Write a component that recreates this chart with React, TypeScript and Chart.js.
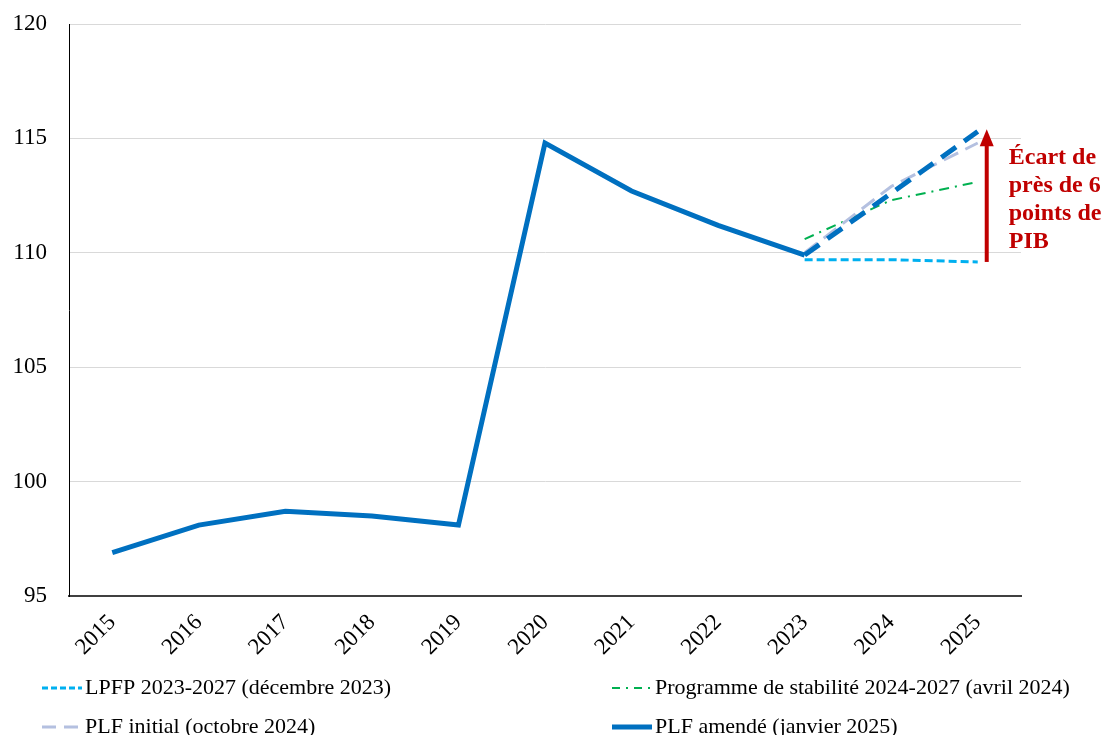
import React, { useEffect, useRef } from "react";
import { Chart, registerables } from "chart.js";

Chart.register(...registerables);

// Categories and series (dette publique, % du PIB)
const YEARS = ["2015", "2016", "2017", "2018", "2019", "2020", "2021", "2022", "2023", "2024", "2025"];
const LPFP = [null, null, null, null, null, null, null, null, 109.7, 109.7, 109.6];
const PROGRAMME = [null, null, null, null, null, null, null, null, 110.6, 112.3, 113.1];
const PLF_INITIAL = [null, null, null, null, null, null, null, null, 110.0, 112.9, 114.8];
const PLF_AMENDE = [96.9, 98.1, 98.7, 98.5, 98.1, 114.8, 112.7, 111.2, 109.9, 112.6, 115.3];
const Y_TICKS = [95, 100, 105, 110, 115, 120];

// Annotation: gap arrow between the two 2025 forecasts
const ARROW_FROM = 109.6;
const ARROW_TO = 115.4;
const ARROW_TEXT = ["Écart de", "près de 6", "points de", "PIB"];

const LEGEND_LABELS = [
  "LPFP 2023-2027 (décembre 2023)",
  "Programme de stabilité 2024-2027 (avril 2024)",
  "PLF initial (octobre 2024)",
  "PLF amendé (janvier 2025)",
];

const FONT = "'Liberation Serif', 'Times New Roman', serif";

const arrowPlugin = {
  id: "gapArrow",
  afterDatasetsDraw(chart: any) {
    const { ctx, scales } = chart;
    const x = scales.x.getPixelForValue(10) + 9;
    const yB = scales.y.getPixelForValue(ARROW_FROM);
    const yT = scales.y.getPixelForValue(ARROW_TO);
    ctx.save();
    ctx.strokeStyle = "#C00000";
    ctx.fillStyle = "#C00000";
    ctx.lineWidth = 4;
    ctx.beginPath();
    ctx.moveTo(x, yB);
    ctx.lineTo(x, yT + 14);
    ctx.stroke();
    ctx.beginPath();
    ctx.moveTo(x, yT);
    ctx.lineTo(x - 7, yT + 17);
    ctx.lineTo(x + 7, yT + 17);
    ctx.closePath();
    ctx.fill();
    ctx.font = `bold 24px ${FONT}`;
    ctx.textAlign = "left";
    ctx.textBaseline = "alphabetic";
    ARROW_TEXT.forEach((t, i) => {
      ctx.fillText(t, x + 22, yT + 35 + i * 28);
    });
    ctx.restore();
  },
};

const legendPlugin = {
  id: "bottomLegend",
  afterDraw(chart: any) {
    const { ctx } = chart;
    const slots = [
      { ds: 0, x: 42, y: 688 },
      { ds: 1, x: 612, y: 688 },
      { ds: 2, x: 42, y: 727 },
      { ds: 3, x: 612, y: 727 },
    ];
    ctx.save();
    slots.forEach((s, i) => {
      const d = chart.data.datasets[s.ds];
      ctx.strokeStyle = d.borderColor;
      ctx.lineWidth = d.borderWidth;
      ctx.setLineDash(d.legendDash || []);
      ctx.beginPath();
      ctx.moveTo(s.x, s.y);
      ctx.lineTo(s.x + 40, s.y);
      ctx.stroke();
      ctx.setLineDash([]);
      ctx.fillStyle = "#000";
      ctx.font = `22px ${FONT}`;
      ctx.textAlign = "left";
      ctx.textBaseline = "middle";
      ctx.fillText(LEGEND_LABELS[i], s.x + 43, s.y);
    });
    ctx.restore();
  },
};

export default function App() {
  const ref = useRef<HTMLCanvasElement | null>(null);

  useEffect(() => {
    document.body.style.margin = "0";
    const canvas = ref.current;
    if (!canvas) return;
    const chart = new Chart(canvas, {
      type: "line",
      data: {
        labels: YEARS,
        datasets: [
          {
            label: LEGEND_LABELS[0],
            data: LPFP,
            borderColor: "#00B0F0",
            borderWidth: 3,
            borderDash: [8, 4],
            legendDash: [6, 3],
            pointRadius: 0,
            order: 3,
          } as any,
          {
            label: LEGEND_LABELS[1],
            data: PROGRAMME,
            borderColor: "#00B050",
            borderWidth: 2,
            borderDash: [10, 6, 2, 6],
            legendDash: [8, 6, 2, 6],
            pointRadius: 0,
            order: 2,
          },
          {
            label: LEGEND_LABELS[2],
            data: PLF_INITIAL,
            borderColor: "#B4C0E0",
            borderWidth: 3,
            borderDash: [16, 8],
            legendDash: [14, 8],
            pointRadius: 0,
            order: 1,
          },
          {
            label: LEGEND_LABELS[3],
            data: PLF_AMENDE,
            borderColor: "#0070C0",
            borderWidth: 5,
            pointRadius: 0,
            order: 0,
            segment: {
              borderDash: (c: any) => (c.p0DataIndex >= 8 ? [18, 10] : undefined),
            },
          },
        ],
      },
      options: {
        responsive: false,
        animation: false,
        layout: { padding: { top: 24, right: 86, bottom: 0, left: 0 } },
        plugins: { legend: { display: false }, tooltip: { enabled: false } },
        elements: { line: { tension: 0, borderCapStyle: "butt" } },
        scales: {
          x: {
            offset: true,
            grid: { display: false, drawTicks: false },
            border: { display: true, color: "#404040", width: 2 },
            ticks: {
              color: "#000",
              font: { family: FONT, size: 23 },
              minRotation: 45,
              maxRotation: 45,
              padding: 13,
            },
            afterFit: (s: any) => {
              s.height = 139;
              s.paddingLeft = 0;
              s.paddingRight = 0;
            },
          },
          y: {
            min: 95,
            max: 120,
            afterBuildTicks: (s: any) => {
              s.ticks = Y_TICKS.map((v) => ({ value: v }));
            },
            grid: { color: "#D9D9D9", lineWidth: 1, drawTicks: false },
            border: { display: true, color: "#000", width: 1 },
            ticks: {
              color: "#000",
              font: { family: FONT, size: 23 },
              padding: 22,
            },
            afterFit: (s: any) => {
              s.width = 69;
              s.paddingTop = 0;
              s.paddingBottom = 0;
            },
          },
        },
      },
      plugins: [arrowPlugin, legendPlugin],
    });
    return () => chart.destroy();
  }, []);

  return (
    <div style={{ width: 1107, height: 735, background: "#fff" }}>
      <canvas ref={ref} width={1107} height={735} style={{ display: "block" }} />
    </div>
  );
}
